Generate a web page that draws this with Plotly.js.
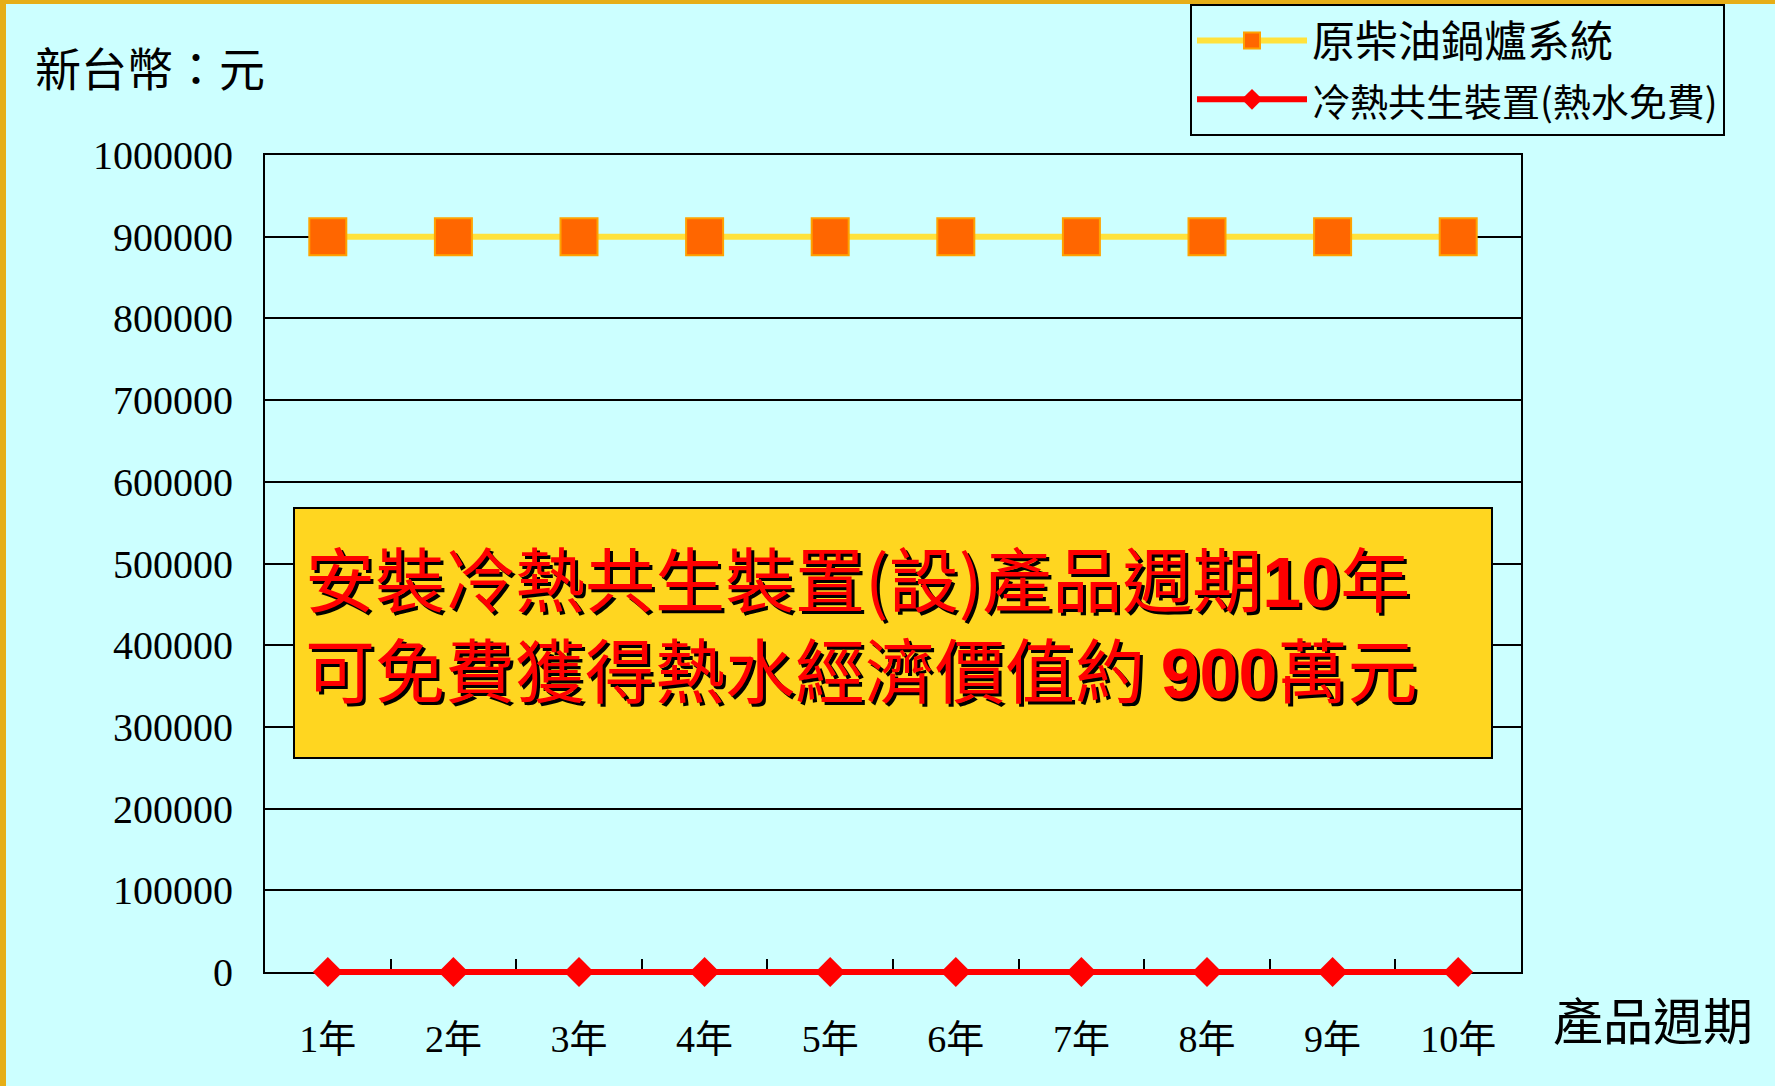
<!DOCTYPE html>
<html><head><meta charset="utf-8">
<script src="https://cdn.plot.ly/plotly-3.0.1.min.js"></script>
<style>
html,body{margin:0;padding:0;background:#E6AE17;width:1775px;height:1086px;overflow:hidden}
#chart{position:absolute;left:6px;top:4px;width:1769px;height:1082px}
</style></head><body><div id="chart"></div>
<script>
// ---- data ----
const years = ["1年","2年","3年","4年","5年","6年","7年","8年","9年","10年"];
const dieselBoilerCost = [900000,900000,900000,900000,900000,900000,900000,900000,900000,900000];
const cogenCost = [0,0,0,0,0,0,0,0,0,0];
const seriesNames = ["原柴油鍋爐系統", "冷熱共生裝置(熱水免費)"];
const yUnitLabel = "新台幣：元";
const xAxisLabel = "產品週期";
const noteLines = [
  "安裝冷熱共生裝置(設)產品週期<span style='font-family:Liberation Sans, Arial;font-weight:bold'>10</span>年",
  "可免費獲得熱水經濟價值約 <span style='font-family:Liberation Sans, Arial;font-weight:bold'>900</span>萬元"
];

// ---- layout helpers (window px -> paper coords) ----
const OX = 6, OY = 4;                 // chart offset inside the window (gold frame)
const W = 1769, H = 1082;
const PL = 265, PR = 1521, PT = 155, PB0 = 972, PB = 980;  // plot frame; PB0 = value 0 line
const px = x => (x - PL) / (PR - PL);
const py = y => (PB - y) / (PB - PT);
const yDomLo = (PB - PB0) / (PB - PT);
const yMax = 1000000;
const y2Lo = -yMax * (PB - PB0) / (PB0 - PT);

const CJK = "Noto Sans CJK TC, Noto Sans CJK SC, sans-serif";
const SERIF = "Liberation Serif, Noto Sans CJK TC, serif";

const traces = [
  {
    x: years, y: dieselBoilerCost, name: seriesNames[0], type: "scatter", mode: "lines+markers",
    xaxis: "x", yaxis: "y",
    line: {color: "#FFE23C", width: 6},
    marker: {symbol: "square", size: 37, color: "#FF6600", line: {color: "#FFA200", width: 2}},
    cliponaxis: false
  },
  {
    x: years, y: cogenCost, name: "<span style='font-size:38px'>" + seriesNames[1] + "</span>", type: "scatter", mode: "lines+markers",
    xaxis: "x", yaxis: "y2",
    line: {color: "#FF0000", width: 6},
    marker: {symbol: "diamond", size: 23, color: "#FF0000"},
    cliponaxis: false
  }
];

const layout = {
  width: W, height: H,
  margin: {l: PL - OX, r: W - (PR - OX), t: PT - OY, b: H - (PB - OY), autoexpand: false},
  paper_bgcolor: "#CCFFFF", plot_bgcolor: "rgba(0,0,0,0)",
  font: {family: SERIF, color: "#000"},
  showlegend: true,
  legend: {
    x: px(1190), y: py(4), xanchor: "left", yanchor: "top",
    bgcolor: "#CCFFFF", bordercolor: "#000", borderwidth: 2,
    font: {family: CJK, size: 43, color: "#000"},
    itemwidth: 110, tracegroupgap: 0
  },
  xaxis: {
    type: "category", range: [-0.5, 9.5], anchor: "y",
    showline: true, linecolor: "#000", linewidth: 2, mirror: true,
    showgrid: false, zeroline: false, layer: "below traces",
    ticks: "inside", tickson: "boundaries", ticklen: 13, tickwidth: 1.5, tickcolor: "#000",
    tickfont: {family: SERIF, size: 38, color: "#000"},
    ticklabelstandoff: 32
  },
  yaxis: {
    domain: [yDomLo, 1], range: [0, yMax], dtick: 100000, tickformat: "d",
    showline: true, linecolor: "#000", linewidth: 2, mirror: true,
    showgrid: true, gridcolor: "#000", gridwidth: 1.5, zeroline: false, layer: "below traces",
    ticks: "", tickfont: {family: SERIF, size: 40, color: "#000"},
    ticklabelstandoff: 22
  },
  yaxis2: {
    domain: [0, 1], range: [y2Lo, yMax], anchor: "x", visible: false, showgrid: false, zeroline: false
  },
  shapes: [
    {type: "rect", xref: "paper", yref: "paper", x0: px(294), x1: px(1492), y0: py(758), y1: py(508),
     fillcolor: "#FFD620", line: {color: "#000", width: 2}, layer: "above"}
  ],
  annotations: [
    {xref: "paper", yref: "paper", x: px(303), y: py(622), xanchor: "left", yanchor: "middle", align: "left", showarrow: false,
     text: noteLines.join("<br>"), font: {family: CJK, size: 70, color: "#FF0000", shadow: "3px 3px 0px #000000"}},
    {xref: "paper", yref: "paper", x: px(150), y: py(66), xanchor: "center", yanchor: "middle", showarrow: false,
     text: yUnitLabel, font: {family: CJK, size: 46, color: "#000"}},
    {xref: "paper", yref: "paper", x: px(1653), y: py(1018), xanchor: "center", yanchor: "middle", showarrow: false,
     text: xAxisLabel, font: {family: CJK, size: 50, color: "#000"}}
  ]
};

Plotly.newPlot("chart", traces, layout, {displayModeBar: false, responsive: false});
</script></body></html>
